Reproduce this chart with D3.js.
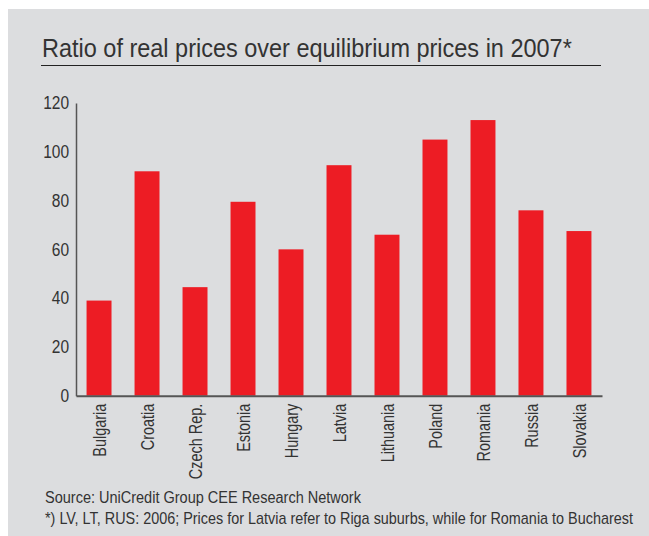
<!DOCTYPE html>
<html>
<head>
<meta charset="utf-8">
<script src="https://cdn.jsdelivr.net/npm/d3@7"></script>
<style>
  body { margin: 0; background: #fff; }
  svg { display: block; }
  text { font-family: "Liberation Sans", Arial, sans-serif; fill: #333; }
</style>
</head>
<body>
<svg id="chart"></svg>
<script>
const countries = ["Bulgaria", "Croatia", "Czech Rep.", "Estonia", "Hungary", "Latvia",
  "Lithuania", "Poland", "Romania", "Russia", "Slovakia"];
const ratios = [39, 92, 44.5, 79.5, 60, 94.5, 66, 105, 113, 76, 67.5];
const yTicks = [0, 20, 40, 60, 80, 100, 120];
const title = "Ratio of real prices over equilibrium prices in 2007*";
const notes = [
  "Source: UniCredit Group CEE Research Network",
  "*) LV, LT, RUS: 2006; Prices for Latvia refer to Riga suburbs, while for Romania to Bucharest"
];

const width = 649;
const height = 536;
const marginTop = 103;
const marginBottom = 140.3;
const marginLeft = 76;
const marginRight = 47;

// squeeze regular glyphs to look like the condensed face of the original
function condense(sel, factor) {
  sel.each(function () {
    const w = this.getComputedTextLength();
    d3.select(this)
      .attr("textLength", w * factor)
      .attr("lengthAdjust", "spacingAndGlyphs");
  });
}

// fit a horizontal text to a given width by scaling it around its start
function fitWidth(sel, x0, y0, target) {
  sel.each(function () {
    const w = this.getComputedTextLength();
    d3.select(this).attr("transform", `translate(${x0},${y0}) scale(${target / w},1)`);
  });
}

const svg = d3.select("#chart").attr("width", width).attr("height", height);

svg.append("rect")
  .attr("x", 8).attr("y", 9)
  .attr("width", width - 8).attr("height", height - 9)
  .attr("fill", "#dcdddf");

svg.append("text")
  .attr("font-size", 26)
  .attr("fill", "#222")
  .text(title)
  .call(fitWidth, 42, 57, 530);

svg.append("line")
  .attr("x1", 41).attr("x2", 601)
  .attr("y1", 65.5).attr("y2", 65.5)
  .attr("stroke", "#222").attr("stroke-width", 1.2);

const x = d3.scaleBand()
  .domain(countries)
  .range([marginLeft, width - marginRight])
  .paddingInner(0.48)
  .paddingOuter(0.22);

const y = d3.scaleLinear()
  .domain([0, 120])
  .range([height - marginBottom, marginTop]);

svg.append("g")
  .selectAll("rect")
  .data(countries)
  .join("rect")
  .attr("x", (d) => x(d))
  .attr("width", x.bandwidth())
  .attr("y", (d, i) => y(ratios[i]))
  .attr("height", (d, i) => y(0) - y(ratios[i]))
  .attr("fill", "#ed1c24");

const yAxisG = svg.append("g")
  .attr("transform", `translate(${marginLeft},0)`)
  .call(d3.axisLeft(y).tickValues(yTicks).tickSize(0).tickPadding(7));
yAxisG.select(".domain").attr("stroke", "#555").attr("stroke-width", 1.5);
yAxisG.selectAll("text")
  .attr("font-size", 18)
  .attr("font-family", null)
  .attr("fill", "#333")
  .call(condense, 0.86);

const xAxisG = svg.append("g")
  .attr("transform", `translate(0,${y(0)})`)
  .call(d3.axisBottom(x).tickSize(0).tickSizeOuter(0));
xAxisG.select(".domain").attr("stroke", "#555").attr("stroke-width", 2);
xAxisG.selectAll("text")
  .attr("font-size", 19)
  .attr("font-family", null)
  .attr("fill", "#333")
  .attr("text-anchor", "end")
  .attr("transform", "rotate(-90)")
  .attr("x", -8)
  .attr("y", 0)
  .attr("dy", "0.35em")
  .call(condense, 0.76);

svg.append("g")
  .selectAll("text")
  .data(notes)
  .join("text")
  .attr("font-size", 16)
  .text((d) => d)
  .each(function (d, i) {
    d3.select(this).call(fitWidth, 45, 503 + i * 21, [316, 588][i]);
  });
</script>
</body>
</html>
